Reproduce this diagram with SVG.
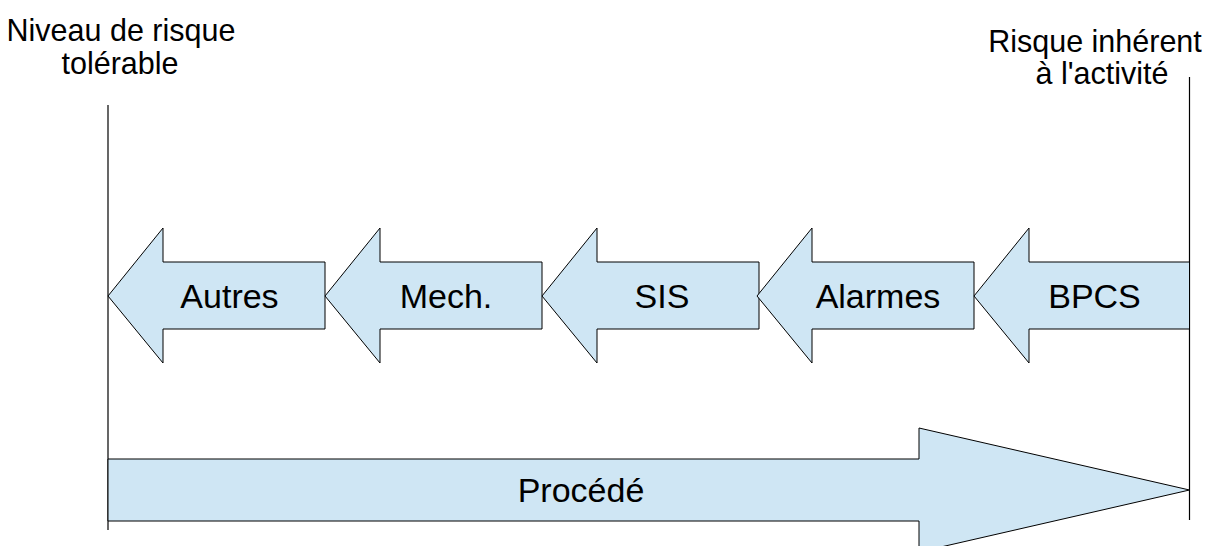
<svg xmlns="http://www.w3.org/2000/svg" width="1206" height="546" viewBox="0 0 1206 546">
  <style>
    .shape { fill: #cfe6f4; stroke: #000; stroke-width: 1; stroke-linejoin: miter; }
    .bound { stroke: #000; stroke-width: 1.2; fill: none; }
    .cap { font-family: "Liberation Sans", Arial, sans-serif; font-size: 30.5px; fill: #000; text-anchor: middle; }
    .lbl { font-family: "Liberation Sans", Arial, sans-serif; font-size: 34px; fill: #000; text-anchor: middle; }
  </style>
  <defs>
    <!-- left-pointing block arrow, tip at origin -->
    <path id="leftArrow" d="M0,0 L55,-68 L55,-34 L217,-34 L217,33 L55,33 L55,67 Z"/>
  </defs>

  <!-- boundary lines -->
  <g id="connectors">
    <line class="bound" x1="108" y1="105" x2="108" y2="530"/>
    <line class="bound" x1="1189.5" y1="77" x2="1189.5" y2="520"/>
  </g>

  <!-- captions -->
  <g id="tolerable">
    <text class="cap" x="121" y="41">Niveau de risque</text>
    <text class="cap" x="120" y="74">tolérable</text>
  </g>
  <g id="inherent">
    <text class="cap" x="1095" y="52">Risque inhérent</text>
    <text class="cap" x="1102" y="84">à l'activité</text>
  </g>

  <!-- protection layers -->
  <g id="autres">
    <use href="#leftArrow" class="shape" x="108" y="296"/>
    <text class="lbl" x="229.5" y="308">Autres</text>
  </g>
  <g id="mech">
    <use href="#leftArrow" class="shape" x="325" y="296"/>
    <text class="lbl" x="446" y="308">Mech.</text>
  </g>
  <g id="sis">
    <use href="#leftArrow" class="shape" x="542" y="296"/>
    <text class="lbl" x="662" y="308">SIS</text>
  </g>
  <g id="alarmes">
    <use href="#leftArrow" class="shape" x="757" y="296"/>
    <text class="lbl" x="878" y="308">Alarmes</text>
  </g>
  <g id="bpcs">
    <path class="shape" d="M974,296 L1029,228 L1029,262 L1189.5,262 L1189.5,329 L1029,329 L1029,363 Z"/>
    <text class="lbl" x="1094.5" y="308">BPCS</text>
  </g>

  <!-- process arrow -->
  <g id="procede">
    <path class="shape" d="M108,459 L919,459 L919,428 L1189.5,490 L919,552 L919,521 L108,521 Z"/>
    <text class="lbl" x="581" y="502">Procédé</text>
  </g>
</svg>
